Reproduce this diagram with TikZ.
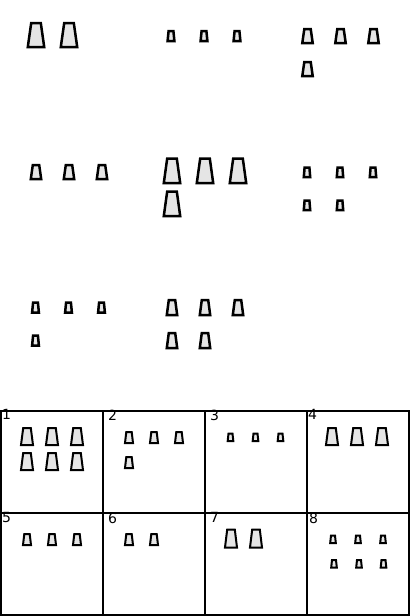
\documentclass[tikz,border=0pt]{standalone}
\usepackage{fontspec}
\setmainfont{DejaVu Sans}
\tikzset{
  cupshape/.style={draw=black,fill=black!10,line width=2.5pt,line join=miter},
  thincup/.style={draw=black,fill=black!10,line width=2pt,line join=miter},
  gridline/.style={draw=black,line width=2.2pt},
  paneltag/.style={anchor=north west,inner sep=0pt,font=\fontsize{14}{14}\selectfont}
}
% #1 style, #2 list of centre x, #3 top y, #4 bottom y, #5 half base width, #6 half top width
\newcommand{\cuprow}[6]{%
  \foreach \cx in {#2}{
    \path[#1] (\cx-#5,#4) -- (\cx-#6,#3) -- (\cx+#6,#3) -- (\cx+#5,#4) -- cycle;
  }}
\begin{document}
\begin{tikzpicture}[x=1pt,y=-1pt]
\useasboundingbox (0,0) rectangle (410,616);
% upper area
\cuprow{cupshape}{36,69}{23}{47}{8.2}{4.8}
\cuprow{cupshape}{171,204,237}{31}{41}{3.4}{2.4}
\cuprow{cupshape}{307.5,340.5,373.5}{29}{43}{5.2}{3.2}
\cuprow{cupshape}{307.5}{62}{76}{5.2}{3.2}
\cuprow{cupshape}{36,69,102}{165}{179}{5.2}{3.2}
\cuprow{cupshape}{172,205,238}{158.5}{183}{8.2}{4.8}
\cuprow{cupshape}{172}{191.5}{216}{8.2}{4.8}
\cuprow{cupshape}{307,340,373}{167.5}{177}{3.2}{2.4}
\cuprow{cupshape}{307,340}{200.5}{210}{3.2}{2.4}
\cuprow{cupshape}{35.5,68.5,101.5}{302.5}{312.5}{3.4}{2.4}
\cuprow{cupshape}{35.5}{335.5}{345.5}{3.4}{2.4}
\cuprow{cupshape}{172,205,238}{300}{315}{5.2}{3.2}
\cuprow{cupshape}{172,205}{333}{348}{5.2}{3.2}
% panels
\foreach \gx in {1,103,205,307,409}{\draw[gridline] (\gx,410) -- (\gx,616);}
\foreach \gy in {411,513,615}{\draw[gridline] (0,\gy) -- (410,\gy);}
\foreach \tx/\ty/\tn in {2/409.5/1,108/409.5/2,210/409.5/3,308/409.5/4,2/512.5/5,108/512.5/6,210/512.5/7,309/512.5/8}{
  \node[paneltag] at (\tx,\ty) {\tn};
}
\cuprow{thincup}{27,52,77}{428}{445}{6}{3.8}
\cuprow{thincup}{27,52,77}{453}{470}{6}{3.8}
\cuprow{thincup}{129,154,179}{432}{443}{4}{2.7}
\cuprow{thincup}{129}{457}{468}{4}{2.7}
\cuprow{thincup}{230.5,255.5,280.5}{433.5}{441}{2.8}{2}
\cuprow{thincup}{332,357,382}{428}{445}{6}{3.8}
\cuprow{thincup}{27,52,77}{534}{545}{4}{2.7}
\cuprow{thincup}{129,154}{534}{545}{4}{2.7}
\cuprow{thincup}{231,256}{529.5}{547.5}{6}{3.8}
\cuprow{thincup}{333,358,383}{535.5}{543}{2.8}{2}
\cuprow{thincup}{334,359,383.5}{560}{567.5}{2.8}{2}
\end{tikzpicture}
\end{document}
